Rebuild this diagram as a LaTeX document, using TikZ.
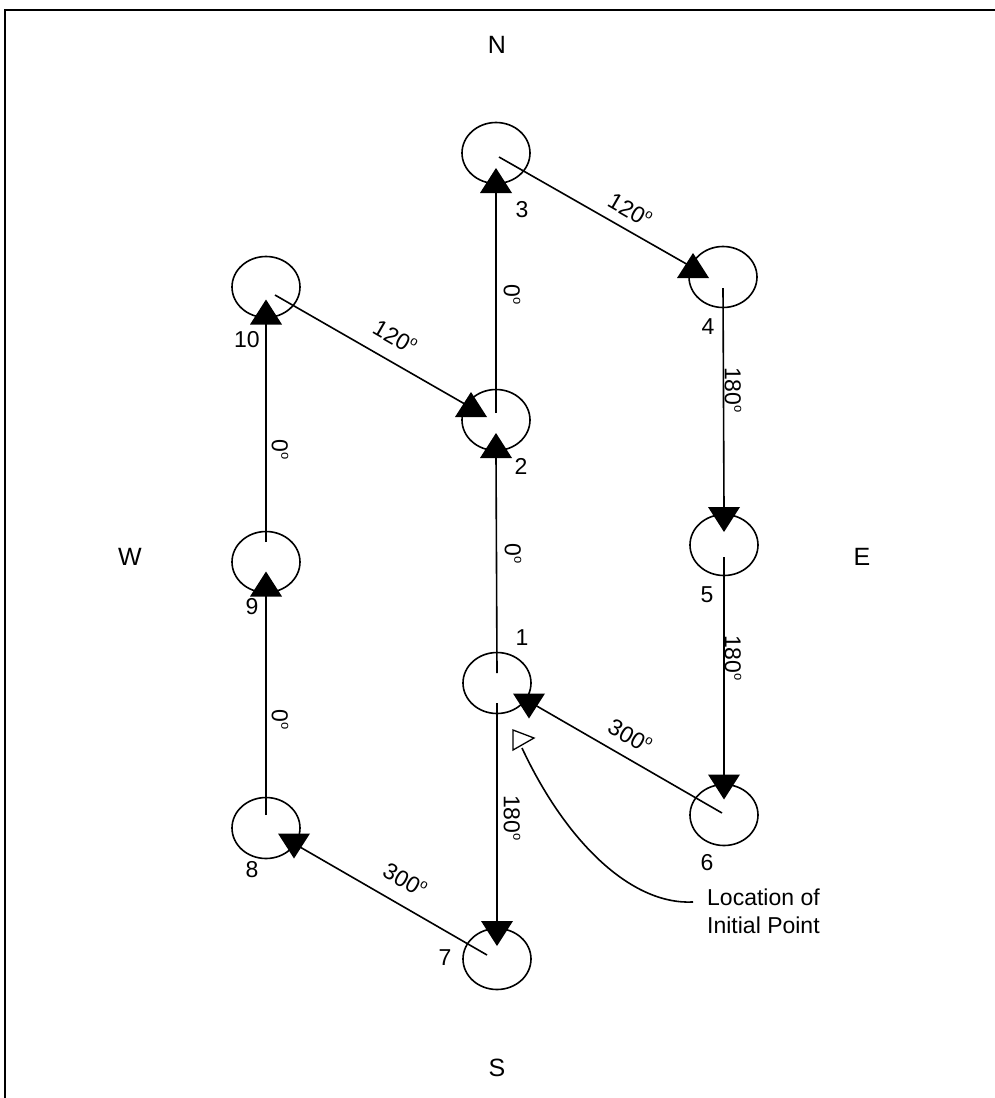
\documentclass[tikz,border=0pt]{standalone}
\usepackage{fontspec}
\setmainfont{Liberation Sans}
\usetikzlibrary{shapes.geometric,calc}
\newcommand{\dg}{\raisebox{0.42em}{\fontsize{13}{13}\selectfont o}}
\tikzset{
  stn/.style={draw, ellipse, minimum width=68pt, minimum height=61pt, inner sep=0pt, line width=1.6pt},
  ln/.style={line width=1.6pt},
  lbl/.style={font=\fontsize{23}{28}\selectfont, inner sep=0pt},
  dir/.style={font=\fontsize{25}{30}\selectfont, inner sep=0pt},
  uptri/.pic={\fill (-16,12.5) -- (16,12.5) -- (0,-12.5) -- cycle;},
  dntri/.pic={\fill (-16,-12.5) -- (16,-12.5) -- (0,12.5) -- cycle;}
}
\begin{document}
\begin{tikzpicture}[x=1pt,y=-1pt]
\useasboundingbox (0,0) rectangle (995,1098);
\draw[line width=2pt] (5,1098) -- (5,9.5) -- (995,9.5);

% stations
\node[stn] (c1) at (497,683) {};
\node[stn] (c2) at (496,420) {};
\node[stn] (c3) at (496,153) {};
\node[stn] (c4) at (723,277) {};
\node[stn] (c5) at (724,545) {};
\node[stn] (c6) at (724,815) {};
\node[stn] (c7) at (497,959) {};
\node[stn] (c8) at (266,828) {};
\node[stn] (c9) at (266,562) {};
\node[stn] (c10) at (266,287) {};

% connectors
\draw[ln] ($(c1)+(0,-10)$) -- ($(c2)+(0,35)$);
\draw[ln] ($(c2)+(0,-7)$) -- ($(c3)+(0,38)$);
\draw[ln] ($(c3)+(3,4)$) -- ($(c4)+(-33,-11)$);
\draw[ln] ($(c4)+(0,11)$) -- ($(c5)+(0,-36)$);
\draw[ln] ($(c5)+(0,12)$) -- ($(c6)+(0,-38)$);
\draw[ln] ($(c6)+(-2,-2)$) -- ($(c1)+(38,22)$);
\draw[ln] ($(c1)+(0,20)$) -- ($(c7)+(0,-35)$);
\draw[ln] ($(c7)+(-10,-4)$) -- ($(c8)+(34,19)$);
\draw[ln] ($(c8)+(0,-13)$) -- ($(c9)+(0,31)$);
\draw[ln] ($(c9)+(0,-20)$) -- ($(c10)+(0,35)$);
\draw[ln] ($(c10)+(9,8)$) -- ($(c2)+(-26,-13)$);

% arrowheads
\pic at ($(c2)+(0,25.5)$) {uptri};
\pic at ($(c3)+(0,27.5)$) {uptri};
\pic at ($(c4)+(-30,-11.5)$) {uptri};
\pic at ($(c2)+(-25,-15.5)$) {uptri};
\pic at ($(c10)+(0,25)$) {uptri};
\pic at ($(c9)+(0,22)$) {uptri};
\pic at ($(c5)+(0,-25.5)$) {dntri};
\pic at ($(c6)+(0,-28)$) {dntri};
\pic at ($(c1)+(32,23)$) {dntri};
\pic at ($(c7)+(0,-25.5)$) {dntri};
\pic at ($(c8)+(28,18)$) {dntri};

% station numbers
\node[lbl] (n1) at (522,638) {1};
\node[lbl] (n2) at (521,466) {2};
\node[lbl] (n3) at (522,210) {3};
\node[lbl] (n4) at (708,327) {4};
\node[lbl] (n5) at (707,595) {5};
\node[lbl] (n6) at (707,863) {6};
\node[lbl] (n7) at (445,958) {7};
\node[lbl] (n8) at (252,870) {8};
\node[lbl] (n9) at (252,607) {9};
\node[lbl] (n10) at (247,340) {10};

% bearings
\node[lbl, rotate=-90] (b23) at (512,295) {0\dg};
\node[lbl, rotate=-90] (b12) at (513,554) {0\dg};
\node[lbl, rotate=-90] (b910) at (280,450) {0\dg};
\node[lbl, rotate=-90] (b89) at (280,720) {0\dg};
\node[lbl, rotate=-90] (b45) at (733,390) {180\dg};
\node[lbl, rotate=-90] (b56) at (733,658) {180\dg};
\node[lbl, rotate=-90] (b17) at (512,818) {180\dg};
\node[lbl, rotate=-30] (b34) at (630,210) {120\dg};
\node[lbl, rotate=-30] (b102) at (395,337) {120\dg};
\node[lbl, rotate=-30] (b61) at (630,736) {300\dg};
\node[lbl, rotate=-30] (b78) at (405,880) {300\dg};

% compass
\node[dir] (N) at (497,45) {N};
\node[dir] (W) at (130,557) {W};
\node[dir] (E) at (862,557) {E};
\node[dir] (S) at (497,1068) {S};

% initial point
\node[lbl, anchor=west, align=left] (loc) at (707,911) {Location of\\Initial Point};
\coordinate (ip) at (522,748);
\draw[ln] ($(loc.west)+(-14,-9)$) .. controls (630,905) and (565,840) .. (ip);
\draw[line width=1.3pt, fill=white] (513,730) -- (534,738) -- (513,750) -- cycle;
\end{tikzpicture}
\end{document}
